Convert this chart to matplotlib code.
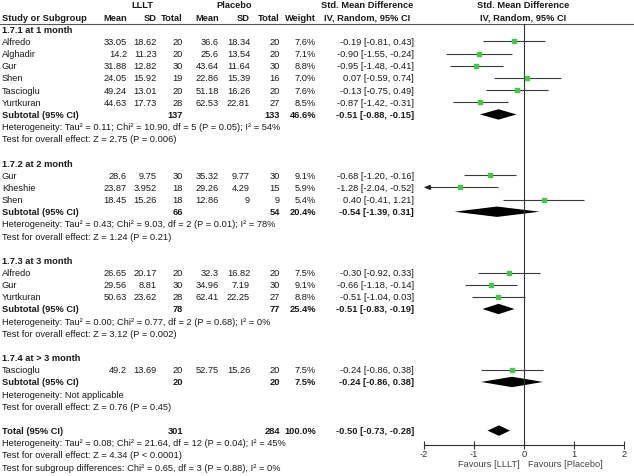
import matplotlib
matplotlib.use("Agg")
import matplotlib.pyplot as plt
from matplotlib import font_manager as fm
from matplotlib.patches import Polygon

# ---------------- data ----------------
group_titles = ["1.7.1 at 1 month", "1.7.2 at 2 month", "1.7.3 at 3 month", "1.7.4 at > 3 month"]

g1_names = ["Alfredo", "Alghadir", "Gur", "Shen", "Tascioglu", "Yurtkuran"]
g1_m1 = ["33.05", "14.2", "31.88", "24.05", "49.24", "44.63"]
g1_sd1 = ["18.62", "11.23", "12.82", "15.92", "13.01", "17.73"]
g1_n1 = [20, 20, 30, 19, 20, 28]
g1_m2 = ["36.6", "25.6", "43.64", "22.86", "51.18", "62.53"]
g1_sd2 = ["18.34", "13.54", "11.64", "15.39", "16.26", "22.81"]
g1_n2 = [20, 20, 30, 16, 20, 27]
g1_w = ["7.6%", "7.1%", "8.8%", "7.0%", "7.6%", "8.5%"]
g1_est = [-0.19, -0.90, -0.95, 0.07, -0.13, -0.87]
g1_lo = [-0.81, -1.55, -1.48, -0.59, -0.75, -1.42]
g1_hi = [0.43, -0.24, -0.41, 0.74, 0.49, -0.31]

g2_names = ["Gur", "Kheshie", "Shen"]
g2_m1 = ["28.6", "23.87", "18.45"]
g2_sd1 = ["9.75", "3.952", "15.26"]
g2_n1 = [30, 18, 18]
g2_m2 = ["35.32", "29.26", "12.86"]
g2_sd2 = ["9.77", "4.29", "9"]
g2_n2 = [30, 15, 9]
g2_w = ["9.1%", "5.9%", "5.4%"]
g2_est = [-0.68, -1.28, 0.40]
g2_lo = [-1.20, -2.04, -0.41]
g2_hi = [-0.16, -0.52, 1.21]

g3_names = ["Alfredo", "Gur", "Yurtkuran"]
g3_m1 = ["26.65", "29.56", "50.63"]
g3_sd1 = ["20.17", "8.81", "23.62"]
g3_n1 = [20, 30, 28]
g3_m2 = ["32.3", "34.96", "62.41"]
g3_sd2 = ["16.82", "7.19", "22.25"]
g3_n2 = [20, 30, 27]
g3_w = ["7.5%", "9.1%", "8.8%"]
g3_est = [-0.30, -0.66, -0.51]
g3_lo = [-0.92, -1.18, -1.04]
g3_hi = [0.33, -0.14, 0.03]

g4_names = ["Tascioglu"]
g4_m1 = ["49.2"]
g4_sd1 = ["13.69"]
g4_n1 = [20]
g4_m2 = ["52.75"]
g4_sd2 = ["15.26"]
g4_n2 = [20]
g4_w = ["7.5%"]
g4_est = [-0.24]
g4_lo = [-0.86]
g4_hi = [0.38]

sub_n1 = [137, 66, 78, 20]
sub_n2 = [133, 54, 77, 20]
sub_w = ["46.6%", "20.4%", "25.4%", "7.5%"]
sub_est = [-0.51, -0.54, -0.51, -0.24]
sub_lo = [-0.88, -1.39, -0.83, -0.86]
sub_hi = [-0.15, 0.31, -0.19, 0.38]
sub_het = ["Heterogeneity: Tau\u00b2 = 0.11; Chi\u00b2 = 10.90, df = 5 (P = 0.05); I\u00b2 = 54%",
           "Heterogeneity: Tau\u00b2 = 0.43; Chi\u00b2 = 9.03, df = 2 (P = 0.01); I\u00b2 = 78%",
           "Heterogeneity: Tau\u00b2 = 0.00; Chi\u00b2 = 0.77, df = 2 (P = 0.68); I\u00b2 = 0%",
           "Heterogeneity: Not applicable"]
sub_test = ["Test for overall effect: Z = 2.75 (P = 0.006)",
            "Test for overall effect: Z = 1.24 (P = 0.21)",
            "Test for overall effect: Z = 3.12 (P = 0.002)",
            "Test for overall effect: Z = 0.76 (P = 0.45)"]

total_n1 = 301
total_n2 = 284
total_w = "100.0%"
total_est, total_lo, total_hi = -0.50, -0.73, -0.28
total_notes = ["Heterogeneity: Tau\u00b2 = 0.08; Chi\u00b2 = 21.64, df = 12 (P = 0.04); I\u00b2 = 45%",
               "Test for overall effect: Z = 4.34 (P < 0.0001)",
               "Test for subgroup differences: Chi\u00b2 = 0.65, df = 3 (P = 0.88), I\u00b2 = 0%"]

x_ticks = [-2, -1, 0, 1, 2]
x_ticklabels = ["-2", "-1", "0", "1", "2"]
fav_left = "Favours [LLLT]"
fav_right = "Favours [Placebo]"

groups = [
    (g1_names, g1_m1, g1_sd1, g1_n1, g1_m2, g1_sd2, g1_n2, g1_w, g1_est, g1_lo, g1_hi),
    (g2_names, g2_m1, g2_sd1, g2_n1, g2_m2, g2_sd2, g2_n2, g2_w, g2_est, g2_lo, g2_hi),
    (g3_names, g3_m1, g3_sd1, g3_n1, g3_m2, g3_sd2, g3_n2, g3_w, g3_est, g3_lo, g3_hi),
    (g4_names, g4_m1, g4_sd1, g4_n1, g4_m2, g4_sd2, g4_n2, g4_w, g4_est, g4_lo, g4_hi),
]

# ---------------- fonts ----------------
def has_font(name):
    try:
        fm.findfont(fm.FontProperties(family=name), fallback_to_default=False)
        return True
    except Exception:
        return False

if has_font("Liberation Sans Narrow"):
    FAM = ["Liberation Sans Narrow", "DejaVu Sans"]
    FS = 7.3
else:
    FAM = ["Liberation Sans", "DejaVu Sans"]
    FS = 6.7
plt.rcParams["font.family"] = FAM

W, H = 634, 477
fig = plt.figure(figsize=(W / 100, H / 100), dpi=100)
ax = fig.add_axes([0, 0, 1, 1])
ax.set_xlim(0, W)
ax.set_ylim(H, 0)
ax.axis("off")

Y0 = 6.0
RH = 12.16
def ry(r):
    return Y0 + r * RH

TXT = "#1a1a1a"
def t(x, r, s, ha="left", bold=False, color=TXT, size=None):
    ax.text(x, ry(r), s, ha=ha, va="center", fontsize=size or FS,
            fontweight="bold" if bold else "normal", color=color)

# column right edges
X_NAME = 2
X_M1, X_SD1, X_N1 = 127, 157, 183
X_M2, X_SD2, X_N2 = 219, 250, 280
X_W = 316
X_CI = 414
X_CIH = 367
X_FH = 523

# headers
t(142, 0, "LLLT", ha="center", bold=True)
t(234, 0, "Placebo", ha="center", bold=True)
t(X_CIH, 0, "Std. Mean Difference", ha="center", bold=True)
t(X_FH, 0, "Std. Mean Difference", ha="center", bold=True)
t(X_NAME, 1, "Study or Subgroup", bold=True)
for x, s in [(X_M1, "Mean"), (X_SD1, "SD"), (X_N1, "Total"), (X_M2, "Mean"),
             (X_SD2, "SD"), (X_N2, "Total"), (X_W, "Weight")]:
    t(x, 1, s, ha="right", bold=True)
t(X_CIH, 1, "IV, Random, 95% CI", ha="center", bold=True)
t(X_FH, 1, "IV, Random, 95% CI", ha="center", bold=True)
ax.plot([0, W], [25, 25], color="#555555", lw=0.8)

def fmt(v):
    return f"{v:.2f}"

# forest axes
AX_L, AX_R = 424, 624
AX_TOP, AX_BOT = 25, 446
fx = fig.add_axes([AX_L / W, 1 - AX_BOT / H, (AX_R - AX_L) / W, (AX_BOT - AX_TOP) / H])
fx.set_xlim(-2, 2)
fx.set_ylim(AX_BOT, AX_TOP)
fx.patch.set_alpha(0)
for sp in ["top", "right", "left"]:
    fx.spines[sp].set_visible(False)
fx.spines["bottom"].set_color("#333333")
fx.spines["bottom"].set_linewidth(0.8)
fx.set_yticks([])
fx.set_xticks(x_ticks)
fx.set_xticklabels(x_ticklabels, fontsize=FS, color="#333333")
fx.tick_params(axis="x", direction="inout", length=6, width=0.8, color="#333333", pad=0)
fx.axvline(0, color="#333333", lw=0.8)
fx.text(-0.08, 465, fav_left, ha="right", va="center", fontsize=FS, color="#444444", clip_on=False)
fx.text(0.08, 465, fav_right, ha="left", va="center", fontsize=FS, color="#444444", clip_on=False)

def diamond(est, lo, hi, y, hh=5.2):
    fx.add_patch(Polygon([(lo, y), (est, y - hh), (hi, y), (est, y + hh)],
                         closed=True, color="black", lw=0))

r = 2
for gi, g in enumerate(groups):
    names, m1, sd1, n1, m2, sd2, n2, w, est, lo, hi = g
    t(X_NAME, r, group_titles[gi], bold=True)
    r += 1
    for i in range(len(names)):
        t(X_NAME, r, names[i])
        t(X_M1, r, m1[i], ha="right")
        t(X_SD1, r, sd1[i], ha="right")
        t(X_N1, r, str(n1[i]), ha="right")
        t(X_M2, r, m2[i], ha="right")
        t(X_SD2, r, sd2[i], ha="right")
        t(X_N2, r, str(n2[i]), ha="right")
        t(X_W, r, w[i], ha="right")
        t(X_CI, r, f"{fmt(est[i])} [{fmt(lo[i])}, {fmt(hi[i])}]", ha="right")
        y = ry(r)
        l = max(lo[i], -2)
        h = min(hi[i], 2)
        fx.plot([l, h], [y, y], color="#3a3a3a", lw=0.8, solid_capstyle="butt")
        if lo[i] < -2:
            fx.annotate("", xy=(-2, y), xytext=(-1.85, y),
                        arrowprops=dict(arrowstyle="-|>,head_length=0.35,head_width=0.15",
                                        color="#222222", lw=0.8, shrinkA=0, shrinkB=0))
        fx.plot([est[i]], [y], marker="s", ms=2.2, color="#40cc40", mec="#40cc40", lw=0)
        r += 1
    t(X_NAME, r, "Subtotal (95% CI)", bold=True)
    t(X_N1, r, str(sub_n1[gi]), ha="right", bold=True)
    t(X_N2, r, str(sub_n2[gi]), ha="right", bold=True)
    t(X_W, r, sub_w[gi], ha="right", bold=True)
    t(X_CI, r, f"{fmt(sub_est[gi])} [{fmt(sub_lo[gi])}, {fmt(sub_hi[gi])}]", ha="right", bold=True)
    diamond(sub_est[gi], sub_lo[gi], sub_hi[gi], ry(r))
    r += 1
    t(X_NAME, r, sub_het[gi])
    r += 1
    t(X_NAME, r, sub_test[gi])
    r += 2

t(X_NAME, r, "Total (95% CI)", bold=True)
t(X_N1, r, str(total_n1), ha="right", bold=True)
t(X_N2, r, str(total_n2), ha="right", bold=True)
t(X_W, r, total_w, ha="right", bold=True)
t(X_CI, r, f"{fmt(total_est)} [{fmt(total_lo)}, {fmt(total_hi)}]", ha="right", bold=True)
diamond(total_est, total_lo, total_hi, ry(r))
r += 1
for s in total_notes:
    t(X_NAME, r, s)
    r += 1

fig.savefig("out.png", dpi=100)
